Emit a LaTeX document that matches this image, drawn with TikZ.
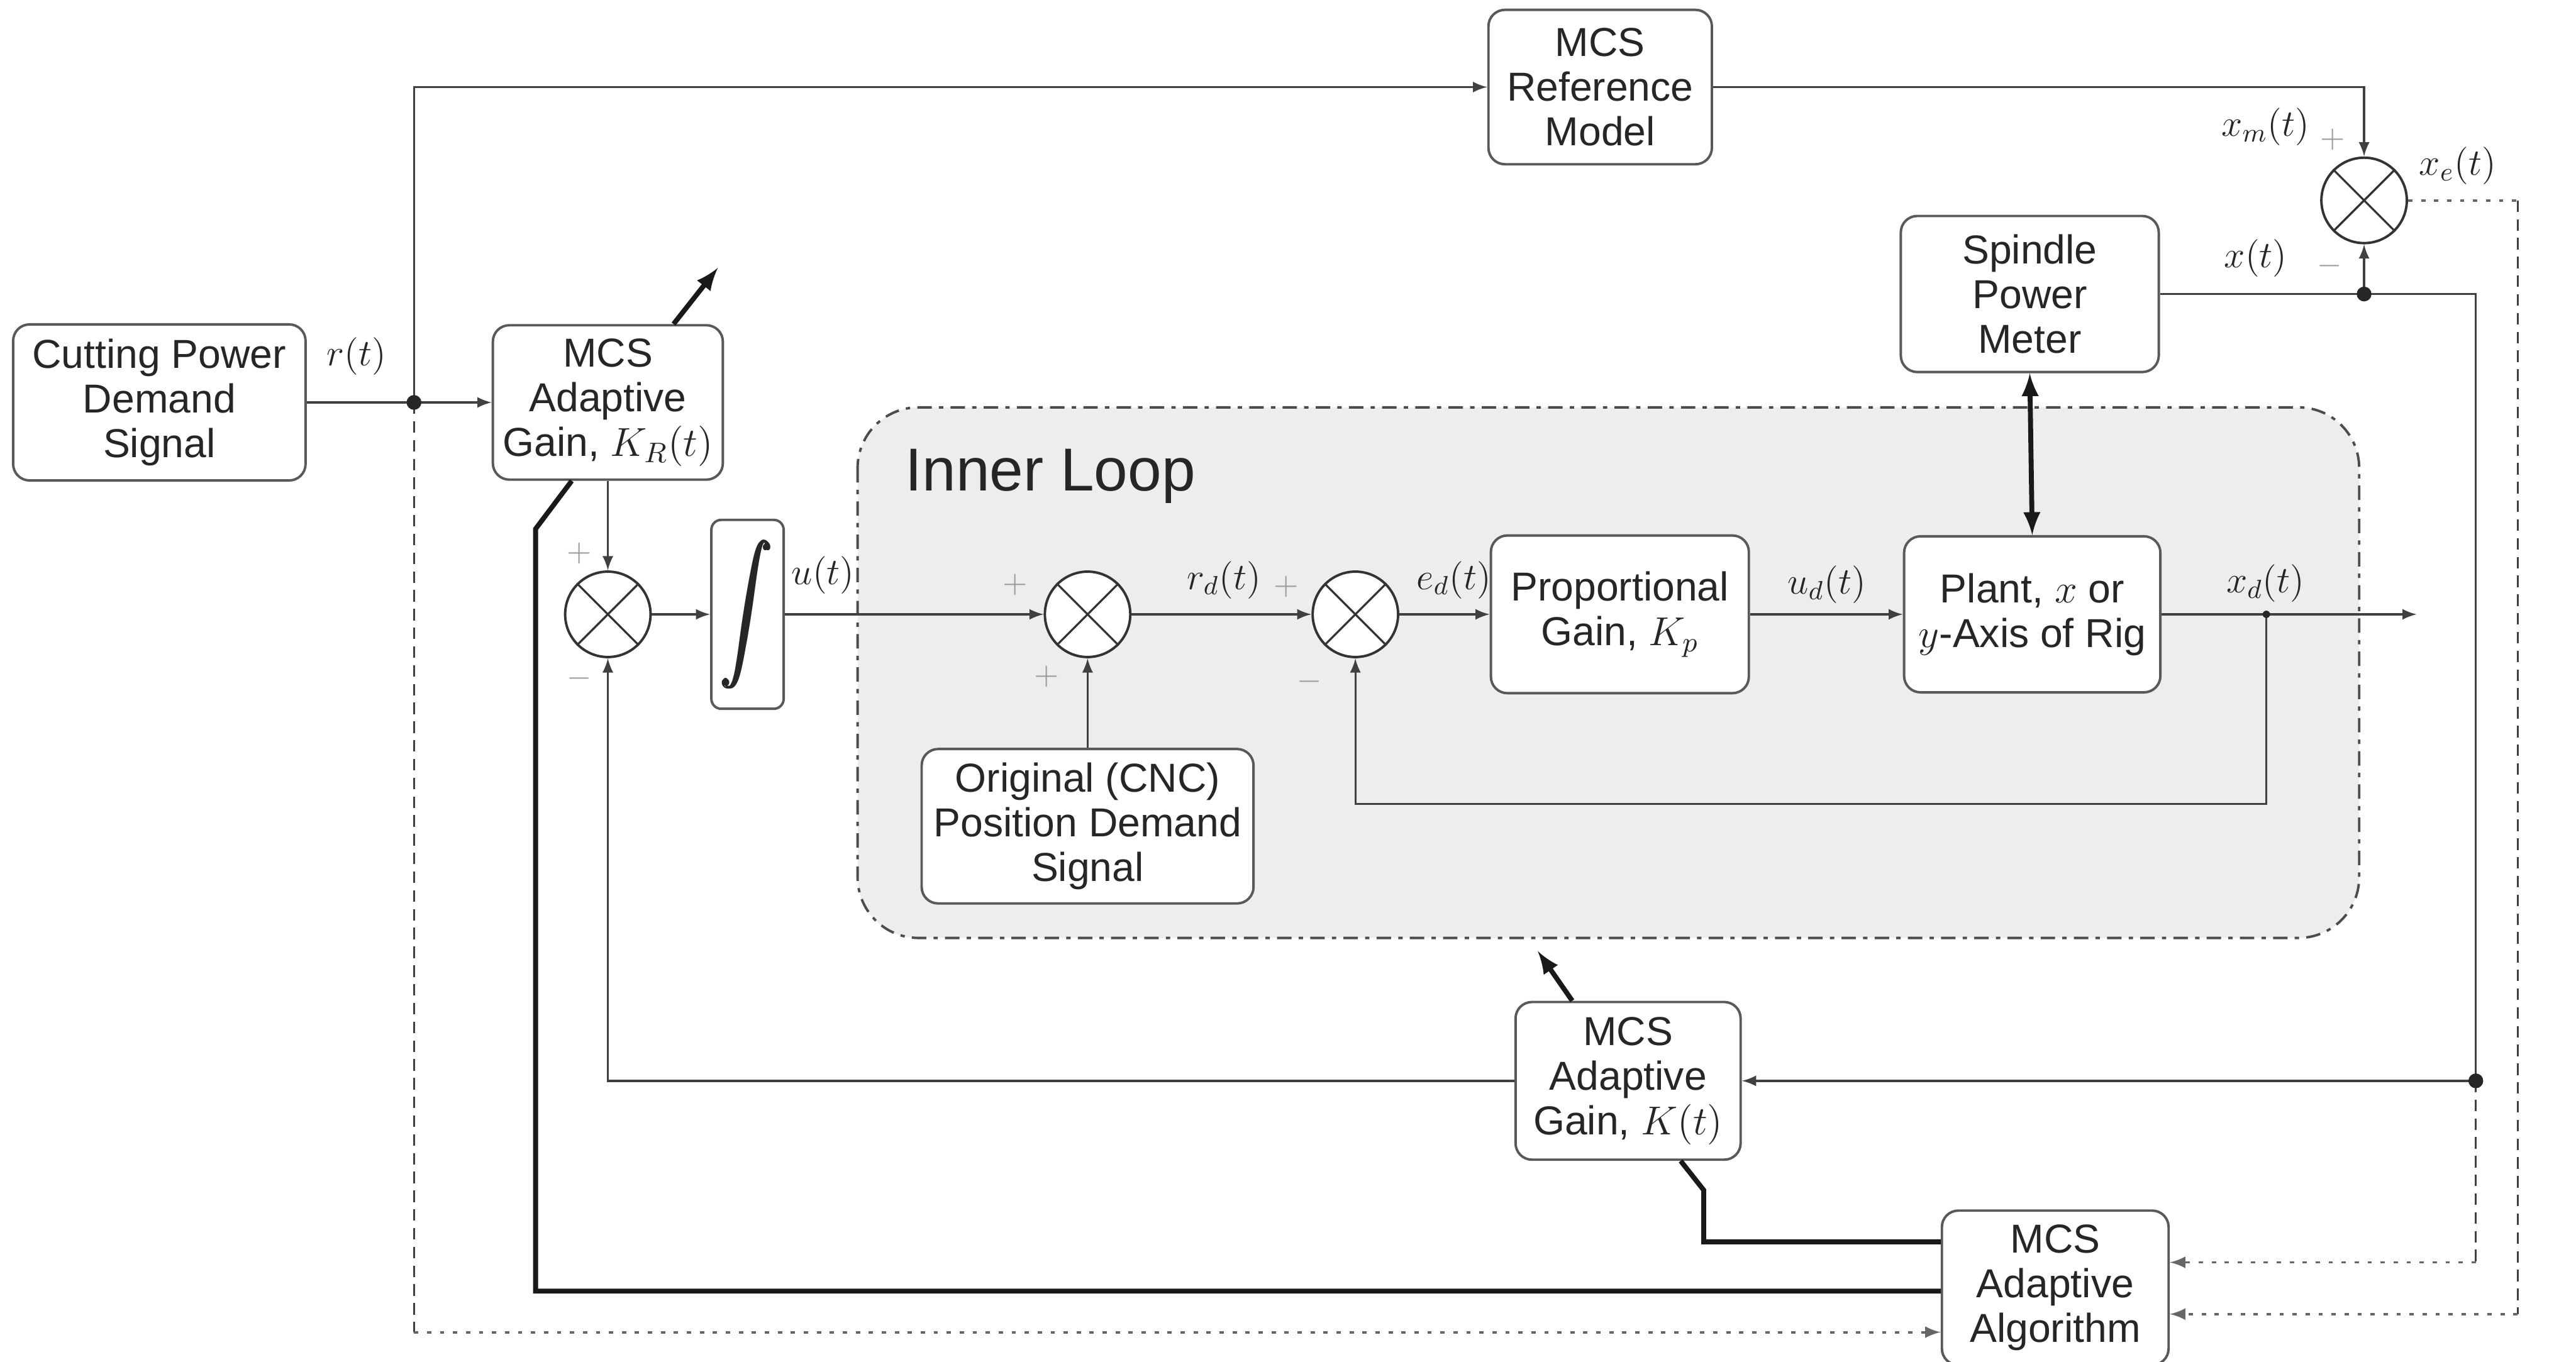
\documentclass[tikz,border=0pt]{standalone}
\usepackage{fix-cm}
\usepackage{graphicx}
\usepackage{amsmath}
\usepackage{fontspec}
\setmainfont{Liberation Sans}

\begin{document}
\begin{tikzpicture}[
block/.style={
        draw=black!65,
        line width=0.3mm,
        rounded corners=0.2cm,
        fill=white,
        align=center,
        inner sep=2pt,
        text=black!85,
        font=\fontsize{14}{15.5}\selectfont,
    },
summer/.style={
        draw=black!80,
        circle,
        line width=0.3mm,
        fill=white,
        minimum size=1.04cm,
        inner sep=0pt,
    },
sigl/.style={
        text=black!85,
        font=\fontsize{13}{13}\selectfont,
    },
signmark/.style={
        text=black!40,
        font=\fontsize{11}{11}\selectfont,
    },
wire/.style={line width=0.25mm, draw=black!75},
heavy/.style={line width=0.6mm, draw=black!90},
dotwire/.style={line width=0.3mm, draw=black!60, dash pattern=on 1.5pt off 3pt},
dashwire/.style={line width=0.25mm, draw=black!75, dash pattern=on 4pt off 2.5pt},
]
\useasboundingbox (0,0) rectangle (31.36,-16.58);

% inner loop region
\draw[black!70, line width=0.3mm, fill=gray!14, rounded corners=0.74cm,
      dash pattern=on 5pt off 2.5pt on 1.5pt off 2.5pt] (10.44,-4.96) rectangle (28.72,-11.42);
\node[anchor=west, text=black!85, font=\fontsize{21}{21}\selectfont] (innerlabel) at (10.9,-5.8) {Inner Loop};

\node[block, minimum width=3.56cm, minimum height=1.9cm] (cutpower) at (1.94,-4.90) {Cutting Power\\ Demand\\ Signal};
\node[block, minimum width=2.8cm, minimum height=1.88cm] (krgain) at (7.40,-4.90) {MCS\\ Adaptive\\ Gain, $K_R(t)$};
\node[block, minimum width=2.72cm, minimum height=1.88cm] (refmodel) at (19.48,-1.06) {MCS\\ Reference\\ Model};
\node[block, minimum width=3.14cm, minimum height=1.9cm] (spmeter) at (24.71,-3.58) {Spindle\\ Power\\ Meter};
\node[summer] (sumx) at (28.78,-2.44) {};

\node[summer] (sumr) at (7.40,-7.48) {};
\node[block, minimum width=0.88cm, minimum height=2.3cm, rounded corners=0.12cm] (integ) at (9.10,-7.48) {\scalebox{1.25}[1.6]{$\pmb{\displaystyle\int}$}};
\node[summer] (sumd) at (13.24,-7.48) {};
\node[summer] (sume) at (16.50,-7.48) {};
\node[block, minimum width=4.04cm, minimum height=1.88cm] (cncdemand) at (13.24,-10.06) {Original (CNC)\\ Position Demand\\ Signal};
\node[block, minimum width=3.14cm, minimum height=1.92cm] (kpgain) at (19.72,-7.48) {Proportional\\ Gain, $K_p$};
\node[block, minimum width=3.12cm, minimum height=1.9cm] (plant) at (24.74,-7.48) {Plant, $x$ or\\ $y$-Axis of Rig};

\node[block, minimum width=2.74cm, minimum height=1.92cm] (kgain) at (19.82,-13.16) {MCS\\ Adaptive\\ Gain, $K(t)$};
\node[block, minimum width=2.76cm, minimum height=1.88cm] (algo) at (25.02,-15.68) {MCS\\ Adaptive\\ Algorithm};

\foreach \s in {sumx,sumr,sumd,sume}
  \draw[black!80, line width=0.25mm] (\s.45) -- (\s.225) (\s.135) -- (\s.315);

% junctions and corners
\coordinate (jr) at (5.04,-4.90);
\coordinate (jx) at (28.78,-3.58);
\coordinate (jtop) at (30.14,-3.58);
\coordinate (jk) at (30.14,-13.16);
\coordinate (jd) at (27.59,-7.48);
\coordinate (outp) at (29.42,-7.48);
\coordinate (cl) at (5.04,-16.22);
\coordinate (cxe) at (30.65,-2.44);
\coordinate (cxeb) at (30.65,-16.0);
\coordinate (ckb) at (30.14,-15.37);
\coordinate (ckr) at (6.52,-15.72);
\coordinate (ckg) at (20.74,-15.12);

\draw[wire] (cutpower.east) -- (jr);
\draw[wire, -latex] (jr) -- (krgain.west);
\draw[wire, -latex] (jr) |- (refmodel.west);
\draw[wire, -latex] (refmodel.east) -| (sumx.north);
\draw[wire, -latex] (krgain.south) -- (sumr.north);
\draw[wire, -latex] (sumr.east) -- (integ.west);
\draw[wire, -latex] (integ.east) -- (sumd.west);
\draw[wire, -latex] (sumd.east) -- (sume.west);
\draw[wire, -latex] (cncdemand.north) -- (sumd.south);
\draw[wire, -latex] (sume.east) -- (kpgain.west);
\draw[wire, -latex] (kpgain.east) -- (plant.west);
\draw[wire, -latex] (plant.east) -- (outp);
\draw[wire, -latex] (jd) -- ++(0,-2.31) -| (sume.south);
\draw[heavy, latex-latex] (spmeter.south) -- (plant.north);
\draw[wire] (spmeter.east) -- (jx);
\draw[wire, -latex] (jx) -- (sumx.south);
\draw[wire] (jx) -- (jtop) -- (jk);
\draw[wire, -latex] (jk) -- (kgain.east);
\draw[wire, -latex] (kgain.west) -| (sumr.south);

% adaptation signals
\draw[dashwire] (jr) -- (cl);
\draw[dotwire, -latex] (cl) -- (cl -| algo.west);
\draw[dotwire] (sumx.east) -- (cxe);
\draw[dashwire] (cxe) -- (cxeb);
\draw[dotwire, -latex] (cxeb) -- (cxeb -| algo.east);
\draw[dashwire] (jk) -- (ckb);
\draw[dotwire, -latex] (ckb) -- (ckb -| algo.east);

\draw[heavy] (ckr -| algo.west) -- (ckr) -- (6.52,-6.44) -- ([xshift=-0.44cm]krgain.south);
\draw[heavy, -latex] ([xshift=0.8cm]krgain.north) -- (8.74,-3.26);
\draw[heavy] (ckg -| algo.west) -- (ckg) -- (20.74,-14.49) -- ([xshift=0.64cm]kgain.south);
\draw[heavy, -latex] ([xshift=-0.68cm]kgain.north) -- (18.72,-11.58);

\foreach \j in {jr,jx,jk}
  \fill[black!85] (\j) circle (0.09);
\fill[black!85] (jd) circle (0.045);

% signal labels
\node[sigl] (lr) at (4.34,-4.34) {$r(t)$};
\node[sigl] (lu) at (10.02,-7.00) {$u(t)$};
\node[sigl] (lrd) at (14.90,-7.06) {$r_d(t)$};
\node[sigl] (led) at (17.70,-7.06) {$e_d(t)$};
\node[sigl] (lud) at (22.24,-7.12) {$u_d(t)$};
\node[sigl] (lxd) at (27.58,-7.10) {$x_d(t)$};
\node[sigl] (lxm) at (27.58,-1.54) {$x_m(t)$};
\node[sigl] (lxe) at (29.92,-2.02) {$x_e(t)$};
\node[sigl] (lx) at (27.46,-3.14) {$x(t)$};

\foreach \x/\y/\t [count=\i] in {7.05/-6.74/+, 7.05/-8.26/-, 12.36/-7.12/+, 12.74/-8.24/+,
                                  15.66/-7.14/+, 15.94/-8.30/-, 28.40/-1.70/+, 28.36/-3.24/-}
  \node[signmark] (sign\i) at (\x,\y) {$\t$};
\end{tikzpicture}
\end{document}
